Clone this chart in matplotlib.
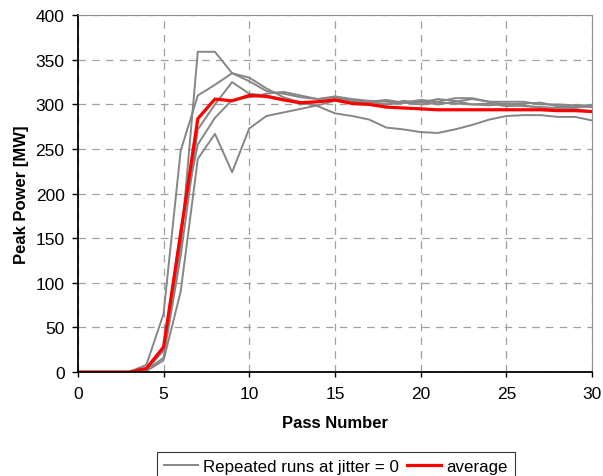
import numpy as np
import matplotlib.pyplot as plt

plt.rcParams['font.family'] = ['Liberation Sans', 'DejaVu Sans']

passes = np.arange(0, 31)

# repeated runs at jitter = 0
run_a = [0, 0, 0, 0, 8, 65, 248, 310, 322, 335, 330, 318, 308, 302, 298, 290, 287, 283, 274, 272,
         269, 268, 272, 277, 283, 287, 288, 288, 286, 286, 282]
run_b = [0, 0, 0, 0, 3, 25, 140, 359, 359, 335, 326, 315, 312, 308, 306, 308, 304, 303, 305, 302,
         303, 300, 303, 306, 303, 300, 301, 302, 298, 298, 297]
run_c = [0, 0, 0, 0, 2, 16, 130, 272, 300, 325, 312, 310, 306, 300, 303, 306, 303, 300, 300, 304,
         302, 306, 304, 300, 299, 301, 298, 297, 296, 297, 298]
run_d = [0, 0, 0, 0, 1, 13, 90, 239, 267, 224, 273, 287, 291, 295, 299, 304, 302, 303, 300, 302,
         305, 303, 307, 307, 303, 303, 303, 300, 300, 299, 299]
run_e = [0, 0, 0, 0, 2, 24, 160, 255, 285, 305, 308, 312, 314, 310, 306, 309, 306, 304, 303, 302,
         300, 302, 301, 300, 301, 298, 299, 296, 296, 295, 292]
runs = [run_a, run_b, run_c, run_d, run_e]

average = [0, 0, 0, 0, 4, 28, 155, 284, 306, 304, 310, 309, 305, 302, 303, 305, 301, 300, 297, 296,
           295, 294, 294, 294, 294, 294, 294, 294, 293, 293, 292]

fig = plt.figure(figsize=(6.03, 4.77), dpi=100)
ax = fig.add_axes([0.129, 0.218, 0.853, 0.748])

for i, r in enumerate(runs):
    ax.plot(passes, r, color='#868686', lw=1.4,
            label='Repeated runs at jitter = 0' if i == 0 else None)
ax.plot(passes, average, color='#ff0000', lw=2.3, label='average')

ax.set_xlim(0, 30)
ax.set_ylim(0, 400)
ax.set_xticks(range(0, 31, 5))
ax.set_yticks(range(0, 401, 50))
ax.grid(True, color='#a0a0a0', linestyle=(0, (6, 5)), lw=0.9)
ax.set_axisbelow(True)
ax.tick_params(labelsize=12.5, direction='out', width=1)
ax.tick_params(axis='y', length=4.5, pad=5)
ax.tick_params(axis='x', length=3.8, pad=6)
for s in ['top', 'right']:
    ax.spines[s].set_color('#909090')
for s in ['left', 'bottom']:
    ax.spines[s].set_linewidth(1.3)

ax.set_xlabel('Pass Number', fontsize=12, fontweight='bold', labelpad=10)
ax.set_ylabel('Peak Power [MW]', fontsize=12, fontweight='bold', labelpad=5)

leg = ax.legend(loc='upper center', bbox_to_anchor=(0.502, -0.224), ncol=2, fontsize=12.2,
                frameon=True, fancybox=False, edgecolor='black', handlelength=2.0,
                handletextpad=0.3, columnspacing=0.5, borderpad=0.4, borderaxespad=0)
leg.get_frame().set_linewidth(0.8)

fig.savefig('out.png', dpi=100)
